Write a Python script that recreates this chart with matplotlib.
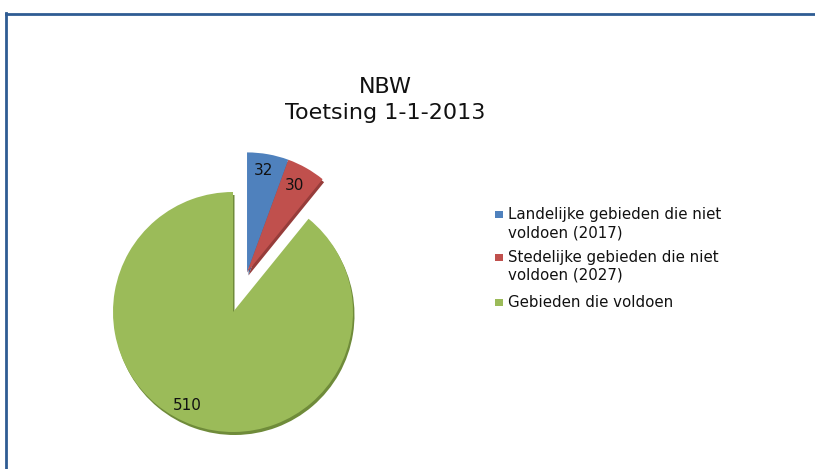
import numpy as np
import matplotlib
matplotlib.use("Agg")
import matplotlib.pyplot as plt
from matplotlib.patches import Wedge, Rectangle
from matplotlib.lines import Line2D

# chart data
labels = [["Landelijke gebieden die niet", "voldoen (2017)"],
          ["Stedelijke gebieden die niet", "voldoen (2027)"],
          ["Gebieden die voldoen"]]
values = [32, 30, 510]
colors = ["#4F81BD", "#C0504D", "#9BBB59"]
shadow_colors = ["#3A6293", "#963C3A", "#6F8B3A"]
title_lines = ["NBW", "Toetsing 1-1-2013"]

W, H = 815, 469
fig = plt.figure(figsize=(W / 100, H / 100), dpi=100)
ax = fig.add_axes([0, 0, 1, 1])

center = (233, 312)
radius = 120
wedges, _ = ax.pie(values, colors=colors, startangle=-90, counterclock=True,
                   center=center, radius=radius,
                   wedgeprops=dict(linewidth=0, zorder=3))

# small slices are pulled out together
small = sum(values[:2]) / sum(values) * 360
ang = np.deg2rad(-90 + small / 2)
off = 42
new_c = (center[0] + off * np.cos(ang), center[1] + off * np.sin(ang))
for w in wedges[:2]:
    w.set_center(new_c)

# shadow underneath
for w, sc in zip(wedges, shadow_colors):
    cx, cy = w.center
    sh = Wedge((cx + 1.5, cy + 3), w.r, w.theta1, w.theta2,
               facecolor=sc, linewidth=0, zorder=2)
    ax.add_patch(sh)

# value labels
nudge = [(-2, 0), (-3, 3), (-11, -4)]
for w, v, (nx, ny) in zip(wedges, values, nudge):
    mid = np.deg2rad((w.theta1 + w.theta2) / 2)
    cx, cy = w.center
    d = 0.86 * w.r
    ax.text(cx + d * np.cos(mid) + nx, cy + d * np.sin(mid) + ny, str(v),
            ha="center", va="center", fontsize=11, color="#111111", zorder=5)

ax.set_xlim(0, W)
ax.set_ylim(H, 0)
ax.axis("off")

for t, yb in zip(title_lines, [93, 119]):
    fig.text(385 / W, 1 - yb / H, t, ha="center", va="baseline",
             fontsize=16, color="#111111")

# legend
ys = [219, 262, 307]
for lab, c, y in zip(labels, colors, ys):
    fig.add_artist(Rectangle((495 / W, 1 - (y - 1) / H), 8 / W, 7 / H,
                             facecolor=c, linewidth=0, transform=fig.transFigure))
    for i, line in enumerate(lab):
        fig.text(508 / W, 1 - (y + 18 * i) / H, line, ha="left", va="baseline",
                 fontsize=10.8, color="#111111")

# outer frame
bc = "#2F5C93"
fig.add_artist(Line2D([5.5 / W, 5.5 / W], [0, 1 - 13 / H], color=bc, lw=2,
                      transform=fig.transFigure))
fig.add_artist(Line2D([5.5 / W, 1], [1 - 14 / H, 1 - 14 / H], color=bc, lw=2,
                      transform=fig.transFigure))

fig.savefig("out.png", dpi=100)
